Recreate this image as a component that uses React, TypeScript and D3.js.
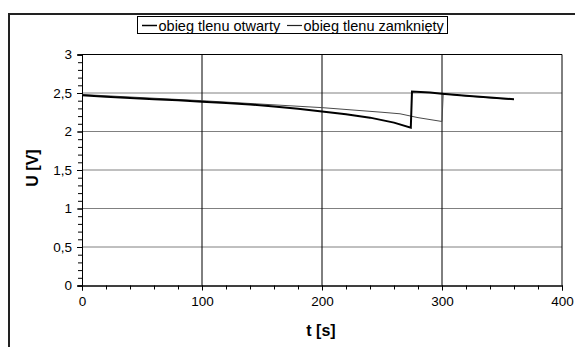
import React, { useRef, useEffect } from 'react';
import * as d3 from 'd3';

// time points [s] and voltage [V]
const tOpen = [0, 20, 40, 60, 80, 100, 120, 140, 160, 180, 200, 220, 240, 260, 274, 275, 290, 300, 320, 340, 360];
const uOpen = [2.47, 2.45, 2.435, 2.42, 2.405, 2.385, 2.37, 2.35, 2.325, 2.295, 2.26, 2.225, 2.18, 2.115, 2.05, 2.52, 2.505, 2.49, 2.465, 2.44, 2.42];
const tClosed = [0, 50, 100, 150, 200, 250, 265, 280, 300, 301, 320, 340, 360];
const uClosed = [2.48, 2.44, 2.4, 2.355, 2.31, 2.25, 2.23, 2.18, 2.13, 2.49, 2.462, 2.437, 2.415];
const seriesNames = ['obieg tlenu otwarty', 'obieg tlenu zamknięty'];
const xTicks = [0, 100, 200, 300, 400];
const yTicks = [0, 0.5, 1, 1.5, 2, 2.5, 3];

const App = () => {
  const svgRef = useRef<SVGSVGElement>(null);
  const W = 575;
  const H = 347;

  useEffect(() => {
    const svg = d3.select(svgRef.current);
    svg.selectAll('*').remove();
    const font = 'Liberation Sans, Arial, sans-serif';

    const x = d3.scaleLinear().domain([0, 400]).range([82, 562]);
    const y = d3.scaleLinear().domain([0, 3]).range([285.5, 54.5]);

    // outer chart frame (right and bottom edges fall outside the picture)
    svg.append('path')
      .attr('d', `M9,${H + 2}V14H${W + 2}`)
      .attr('fill', 'none').attr('stroke', '#222').attr('stroke-width', 2);

    // horizontal gridlines
    svg.append('g').selectAll('line')
      .data(yTicks.filter(v => v > 0 && v < 3))
      .enter().append('line')
      .attr('x1', x(0)).attr('x2', x(400))
      .attr('y1', d => y(d)).attr('y2', d => y(d))
      .attr('stroke', '#808080').attr('stroke-width', 1);

    // vertical gridlines
    svg.append('g').selectAll('line')
      .data(xTicks.filter(v => v > 0 && v < 400))
      .enter().append('line')
      .attr('x1', d => x(d)).attr('x2', d => x(d))
      .attr('y1', y(0)).attr('y2', y(3))
      .attr('stroke', '#000').attr('stroke-width', 1);

    // plot border (top and right)
    svg.append('path')
      .attr('d', `M${x(0)},${y(3)}H${x(400)}V${y(0)}`)
      .attr('fill', 'none').attr('stroke', '#000').attr('stroke-width', 1);

    // axes
    const yAxis = d3.axisLeft(y).tickValues(yTicks).tickSize(5)
      .tickFormat(d => String(d).replace('.', ','));
    const yMinor = d3.axisLeft(y).tickValues(d3.range(0, 3.001, 0.1)).tickSize(4).tickFormat(() => '');
    const xAxis = d3.axisBottom(x).tickValues(xTicks).tickSize(5).tickFormat(d => String(d));
    const xMinor = d3.axisBottom(x).tickValues(d3.range(0, 401, 20)).tickSize(4).tickFormat(() => '');

    const styleAxis = (g: any) => {
      g.select('.domain').attr('stroke', '#000');
      g.selectAll('.tick line').attr('stroke', '#000');
      g.selectAll('text').attr('font-family', font).attr('font-size', 13.5).attr('fill', '#000');
    };

    svg.append('g').attr('transform', `translate(${x(0)},0)`).call(yMinor).call(styleAxis);
    svg.append('g').attr('transform', `translate(${x(0)},0)`).call(yAxis).call(styleAxis)
      .selectAll('text').attr('x', -10);
    svg.append('g').attr('transform', `translate(0,${y(0)})`).call(xMinor).call(styleAxis);
    svg.append('g').attr('transform', `translate(0,${y(0)})`).call(xAxis).call(styleAxis)
      .selectAll('text').attr('y', 11);

    // data lines
    const line = d3.line<[number, number]>().x(d => x(d[0])).y(d => y(d[1]));
    svg.append('path')
      .datum(tClosed.map((t, i) => [t, uClosed[i]] as [number, number]))
      .attr('d', line).attr('fill', 'none').attr('stroke', '#4a4a4a').attr('stroke-width', 1);
    svg.append('path')
      .datum(tOpen.map((t, i) => [t, uOpen[i]] as [number, number]))
      .attr('d', line).attr('fill', 'none').attr('stroke', '#000').attr('stroke-width', 2);

    // axis titles
    svg.append('text')
      .attr('x', 321).attr('y', 336)
      .attr('text-anchor', 'middle')
      .attr('font-family', font).attr('font-size', 16).attr('font-weight', 'bold')
      .text('t [s]');
    svg.append('text')
      .attr('transform', 'translate(38,168) rotate(-90)')
      .attr('text-anchor', 'middle')
      .attr('font-family', font).attr('font-size', 16).attr('font-weight', 'bold')
      .text('U [V]');

    // legend
    const lg = svg.append('g');
    lg.append('rect')
      .attr('x', 137.5).attr('y', 16.5).attr('width', 310).attr('height', 17)
      .attr('fill', 'white').attr('stroke', '#000').attr('stroke-width', 1);
    const items = [
      { x: 142, color: '#000', w: 1.5 },
      { x: 287, color: '#222', w: 1.2 },
    ];
    items.forEach((it, i) => {
      lg.append('line')
        .attr('x1', it.x).attr('x2', it.x + 15)
        .attr('y1', 25.5).attr('y2', 25.5)
        .attr('stroke', it.color).attr('stroke-width', it.w);
      lg.append('text')
        .attr('x', it.x + 16.5).attr('y', 30.5)
        .attr('font-family', font).attr('font-size', 14.5)
        .text(seriesNames[i]);
    });
  }, []);

  return (
    <svg ref={svgRef} width={W} height={H}
      style={{ position: 'fixed', left: 0, top: 0, background: 'white' }} />
  );
};

export default App;
